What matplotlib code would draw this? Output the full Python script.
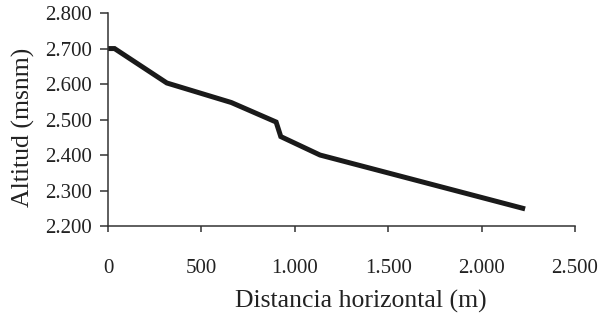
import matplotlib
matplotlib.use("Agg")
import matplotlib.pyplot as plt
from matplotlib.ticker import FuncFormatter

# perfil longitudinal
distancia = [0, 35, 315, 660, 900, 925, 1135, 2220]
altitud = [2700, 2700, 2603, 2548, 2493, 2452, 2400, 2250]

x_ticks = [0, 500, 1000, 1500, 2000, 2500]
y_ticks = [2200, 2300, 2400, 2500, 2600, 2700, 2800]

plt.rcParams['font.family'] = ['Liberation Serif', 'DejaVu Serif']

fig = plt.figure(figsize=(6.01, 3.15), dpi=100)
ax = fig.add_axes([0.1797, 0.2825, 0.777, 0.676])

ax.plot(distancia, altitud, color='#1a1a1a', lw=3.6, solid_joinstyle='miter')

ax.set_xlim(0, 2500)
ax.set_ylim(2200, 2800)
ax.set_xticks(x_ticks)
ax.set_yticks(y_ticks)

def miles(v, pos):
    return f"{int(v):,}".replace(",", ".")

ax.xaxis.set_major_formatter(FuncFormatter(miles))
ax.yaxis.set_major_formatter(FuncFormatter(miles))

for s in ['top', 'right']:
    ax.spines[s].set_visible(False)
for s in ['left', 'bottom']:
    ax.spines[s].set_color('#333333')
    ax.spines[s].set_linewidth(1.1)

ax.tick_params(axis='x', direction='out', length=4.5, width=1.1, color='#333333',
               pad=19, labelsize=15, labelcolor='#222222')
ax.tick_params(axis='y', direction='out', length=5.5, width=1.1, color='#333333',
               pad=6, labelsize=15, labelcolor='#222222')

ax.set_xlabel('Distancia horizontal (m)', fontsize=18.5, color='#222222', labelpad=7)
ax.set_ylabel('Altitud (msnm)', fontsize=18.5, color='#222222', labelpad=7)
ax.xaxis.set_label_coords(0.542, -0.3)
ax.yaxis.label.set_y(0.462)

fig.savefig('out.png', dpi=100)
